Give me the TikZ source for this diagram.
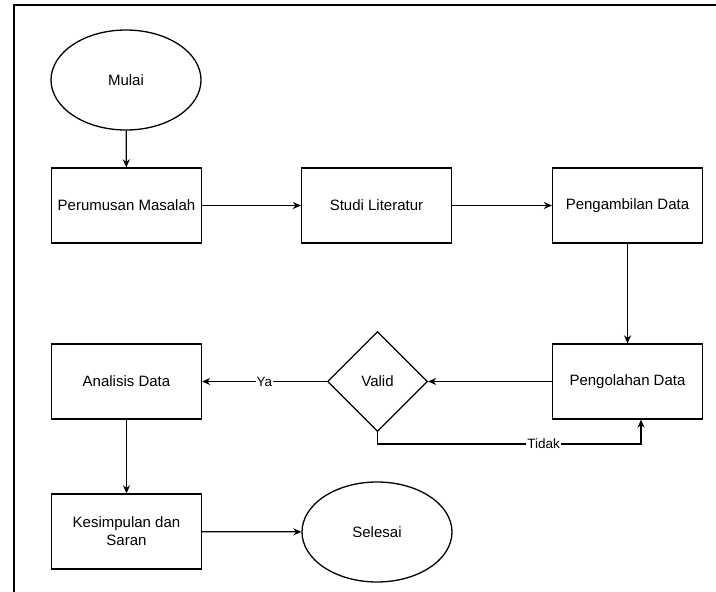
\documentclass[tikz,border=0pt]{standalone}
\usepackage{fontspec}
\setmainfont{Liberation Sans}
\usetikzlibrary{shapes.geometric,arrows.meta}
\begin{document}
\begin{tikzpicture}[x=1pt,y=-1pt,
  base/.style={draw=black,line width=1.3pt,font=\fontsize{15}{18}\selectfont,align=center,inner sep=0pt},
  procbox/.style={base,rectangle,minimum width=150pt,minimum height=75pt},
  term/.style={base,ellipse,minimum width=150pt,minimum height=100pt},
  deci/.style={base,diamond,minimum width=100pt,minimum height=100pt},
  conn/.style={line width=1.3pt,-{Stealth[length=8pt,width=7pt]}},
  lbl/.style={fill=white,inner sep=1pt,font=\fontsize{13.5}{16}\selectfont}]
\useasboundingbox (0,0) rectangle (716,592);
\draw[line width=1.4pt] (14,592) -- (14,5) -- (716,5);
\node[term] (mulai) at (126,80) {Mulai};
\node[procbox] (rumus) at (126.5,205.5) {Perumusan Masalah};
\node[procbox] (studi) at (376.5,205.5) {Studi Literatur};
\node[procbox] (ambil) at (627.5,205.5) {Pengambilan Data};
\node[procbox] (olah) at (627.5,381.5) {Pengolahan Data};
\node[deci] (valid) at (377.5,381.5) {Valid};
\node[procbox] (analisis) at (126.5,381.5) {Analisis Data};
\node[procbox] (simpul) at (126.5,531.5) {Kesimpulan dan\\Saran};
\node[term] (selesai) at (377,532) {Selesai};
\coordinate (c1) at (377.5,444);
\coordinate (c2) at (641,444);
\draw[conn] (mulai) -- (rumus);
\draw[conn] (rumus) -- (studi);
\draw[conn] (studi) -- (ambil);
\draw[conn] (ambil) -- (olah);
\draw[conn] (olah) -- (valid);
\draw[conn] (valid) -- node[lbl] {Ya} (analisis);
\draw[conn] (valid.south) -- (c1) -- node[lbl,pos=0.63] {Tidak} (c2) -- (c2 |- olah.south);
\draw[conn] (analisis) -- (simpul);
\draw[conn] (simpul) -- (selesai);
\end{tikzpicture}
\end{document}
